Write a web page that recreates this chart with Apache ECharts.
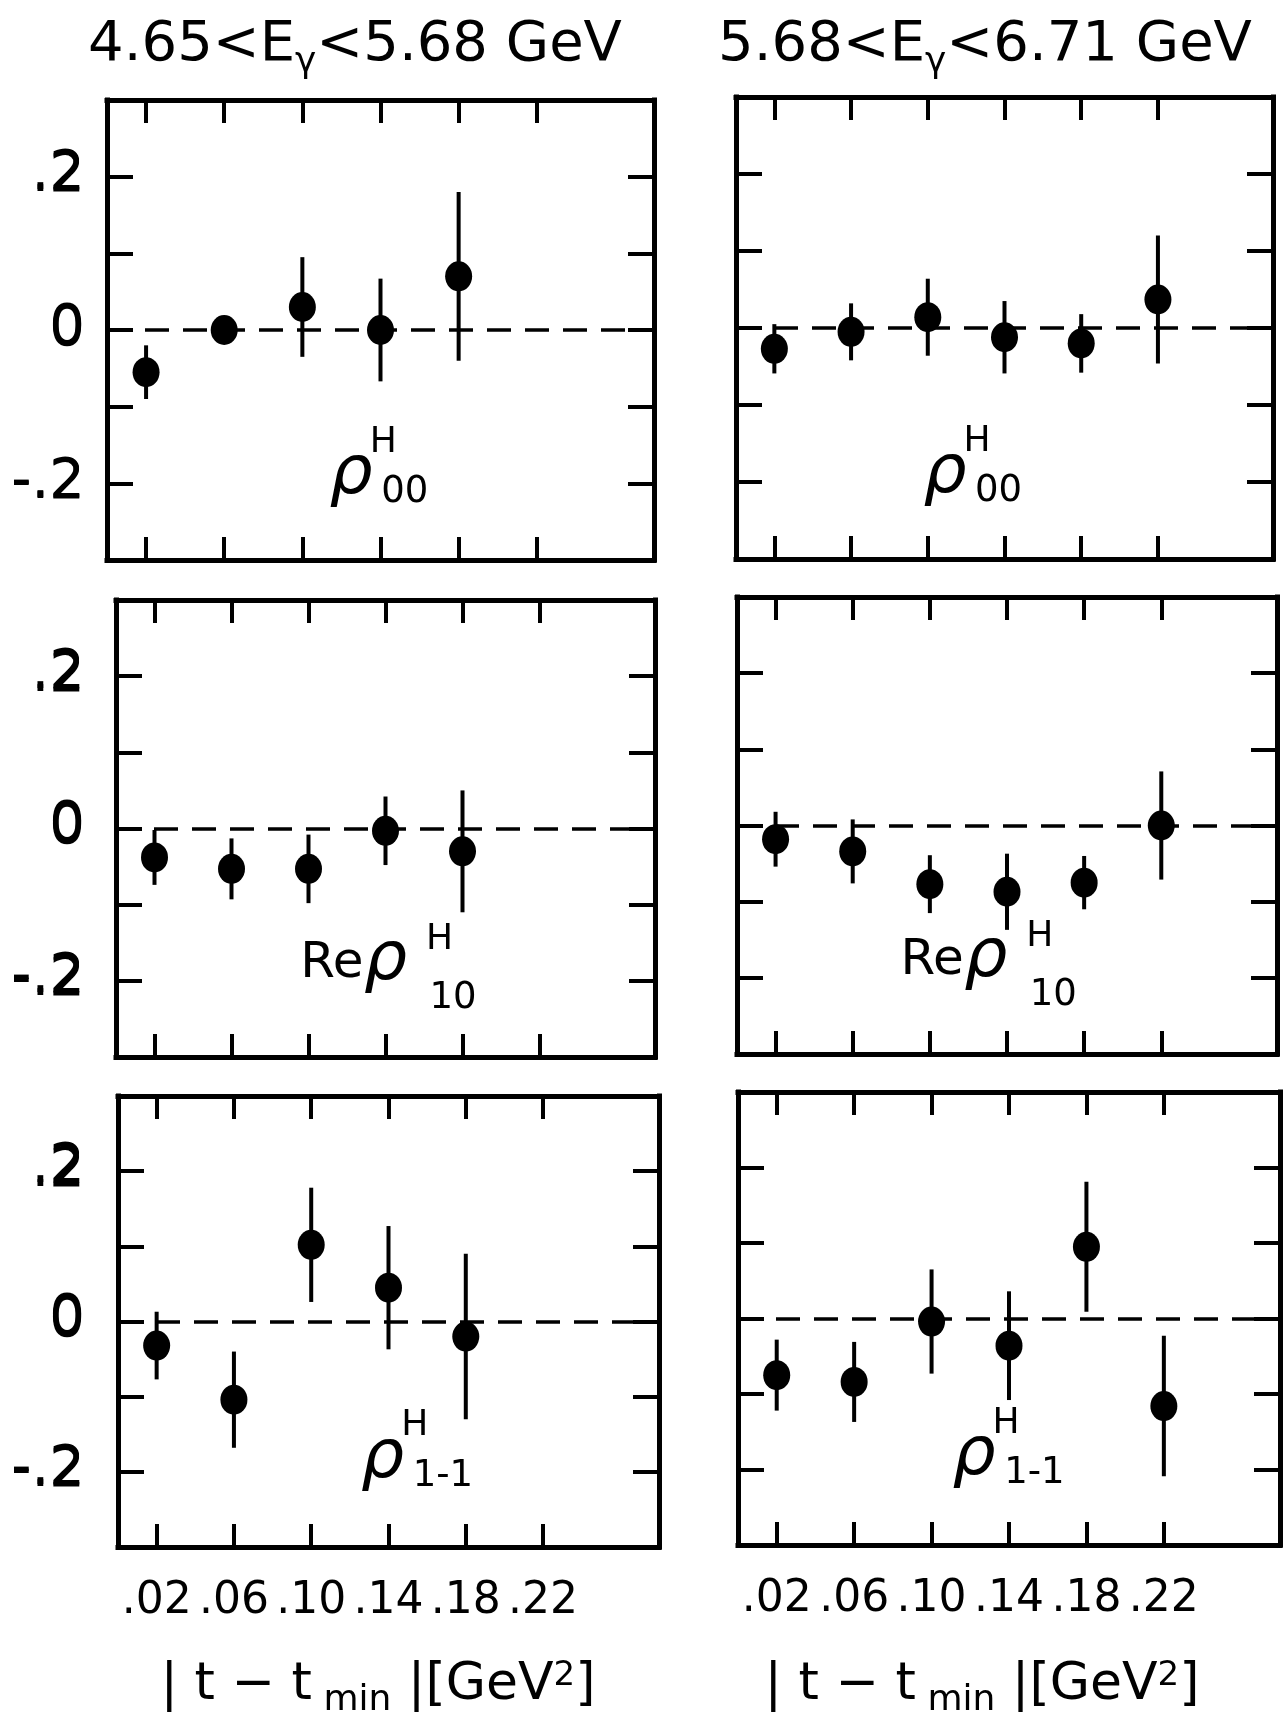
<!DOCTYPE html>
<html>
<head>
<meta charset="utf-8">
<script src="https://cdn.jsdelivr.net/npm/echarts@6/dist/echarts.min.js"></script>
<style>
html, body { margin: 0; padding: 0; background: #fff; }
#main { width: 1288px; height: 1716px; }
</style>
</head>
<body>
<div id="main"></div>
<script>
// |t - tmin| bins and axis ticks
const tValues = [0.02, 0.06, 0.10, 0.14, 0.18, 0.22];
const tTickLabels = ['.02', '.06', '.10', '.14', '.18', '.22'];
const yTicks = [-0.2, -0.1, 0, 0.1, 0.2];
const yLabelValues = [-0.2, 0, 0.2];
const yLabelTexts = ['-.2', '0', '.2'];

// 4.65 < E < 5.68 GeV
const rho00Low = [-0.055, 0.0, 0.03, 0.0, 0.07];
const rho00LowErr = [0.035, 0.012, 0.065, 0.067, 0.11];
const reRho10Low = [-0.038, -0.053, -0.053, -0.003, -0.03];
const reRho10LowErr = [0.036, 0.04, 0.045, 0.045, 0.08];
const rho1m1Low = [-0.032, -0.104, 0.102, 0.045, -0.02];
const rho1m1LowErr = [0.045, 0.064, 0.076, 0.082, 0.11];

// 5.68 < E < 6.71 GeV
const rho00High = [-0.027, -0.005, 0.014, -0.012, -0.02, 0.037];
const rho00HighErr = [0.032, 0.037, 0.05, 0.047, 0.038, 0.083];
const reRho10High = [-0.018, -0.034, -0.077, -0.087, -0.075, 0.0];
const reRho10HighErr = [0.036, 0.042, 0.038, 0.05, 0.035, 0.071];
const rho1m1High = [-0.075, -0.084, -0.004, -0.036, 0.095, -0.116];
const rho1m1HighErr = [0.047, 0.053, 0.069, 0.072, 0.086, 0.093];

const FONT = '"DejaVu Sans"';

// label offsets: [sup dx, sup dy, sub dx, sub dy]
const plainOff = [32, -33, 30, 17];
const reOff = [54, -22, 44, 37];

const panels = [
  { box: [107, 100, 547, 460], vals: rho00Low, errs: rho00LowErr, pre: '', sub: '00', at: [0.125, -0.19], off: plainOff, bottom: false },
  { box: [736, 97, 537, 462], vals: rho00High, errs: rho00HighErr, pre: '', sub: '00', at: [0.109, -0.19], off: plainOff, bottom: false },
  { box: [116, 600, 539, 457], vals: reRho10Low, errs: reRho10LowErr, pre: 'Re', sub: '10', at: [0.14, -0.175], off: reOff, bottom: false },
  { box: [737, 597, 540, 457], vals: reRho10High, errs: reRho10HighErr, pre: 'Re', sub: '10', at: [0.129, -0.175], off: reOff, bottom: false },
  { box: [118, 1096, 541, 451], vals: rho1m1Low, errs: rho1m1LowErr, pre: '', sub: '1-1', at: [0.137, -0.183], off: plainOff, bottom: true },
  { box: [738, 1092, 542, 453], vals: rho1m1High, errs: rho1m1HighErr, pre: '', sub: '1-1', at: [0.122, -0.183], off: plainOff, bottom: true },
];

const lineBlack = { color: '#000', width: 5, cap: 'square' };
const tickStyle = { color: '#000', width: 4 };

function pickLabel(values, texts) {
  return (v) => {
    const i = values.findIndex(t => Math.abs(t - v) < 1e-6);
    return i < 0 ? '' : texts[i];
  };
}

const grid = [];
const xAxis = [];
const yAxis = [];
const series = [];

panels.forEach((p, i) => {
  grid.push({ left: p.box[0], top: p.box[1], width: p.box[2], height: p.box[3] });

  ['bottom', 'top'].forEach((pos) => {
    xAxis.push({
      type: 'value', gridIndex: i, position: pos, min: 0, max: 0.28,
      axisLine: { show: true, onZero: false, lineStyle: lineBlack },
      axisTick: { show: true, inside: true, length: 23, customValues: tValues, lineStyle: tickStyle },
      axisLabel: {
        show: pos === 'bottom' && p.bottom, customValues: tValues, margin: 33,
        formatter: pickLabel(tValues, tTickLabels),
        color: '#000', fontSize: 44, fontFamily: FONT,
      },
      splitLine: { show: false },
    });
  });

  ['left', 'right'].forEach((pos) => {
    yAxis.push({
      type: 'value', gridIndex: i, position: pos, min: -0.3, max: 0.3, interval: 0.1,
      axisLine: { show: true, onZero: false, lineStyle: lineBlack },
      axisTick: { show: true, inside: true, length: 26, customValues: yTicks, lineStyle: tickStyle },
      axisLabel: {
        show: pos === 'left', customValues: yLabelValues, margin: p.box[0] - 85,
        formatter: pickLabel(yLabelValues, yLabelTexts),
        color: '#000', fontSize: 56, fontFamily: FONT,
      },
      splitLine: { show: false },
    });
  });

  const pts = p.vals.map((v, k) => [tValues[k], v, p.errs[k]]);

  series.push({
    type: 'custom',
    xAxisIndex: 2 * i,
    yAxisIndex: 2 * i,
    data: pts,
    encode: { x: 0, y: 1 },
    renderItem: (params, api) => {
      const x = api.value(0);
      const y = api.value(1);
      const e = api.value(2);
      const a = api.coord([x, y + e]);
      const b = api.coord([x, y - e]);
      return {
        type: 'line',
        shape: { x1: a[0], y1: a[1], x2: b[0], y2: b[1] },
        style: { stroke: '#000', lineWidth: 4 },
      };
    },
    silent: true,
    z: 3,
  });

  series.push({
    type: 'scatter',
    xAxisIndex: 2 * i,
    yAxisIndex: 2 * i,
    data: pts.map(d => [d[0], d[1]]),
    symbol: 'circle',
    symbolSize: [27, 30],
    itemStyle: { color: '#000', opacity: 1 },
    markLine: {
      silent: true,
      symbol: ['none', 'none'],
      label: { show: false },
      lineStyle: { color: '#000', width: 3.5, type: [24, 14], opacity: 1 },
      data: [{ yAxis: 0 }],
    },
    z: 4,
  });
});

const chart = echarts.init(document.getElementById('main'), null, { renderer: 'canvas' });
chart.setOption({
  backgroundColor: '#fff',
  animation: false,
  grid,
  xAxis,
  yAxis,
  series,
});

// panel labels, titles
const graphic = [];

function addText(x, y, text, font, align, valign, rich) {
  graphic.push({
    type: 'text', x, y, silent: true,
    style: { text, font, fill: '#000', textAlign: align, textVerticalAlign: valign, rich },
  });
}

panels.forEach((p, i) => {
  const c = chart.convertToPixel({ gridIndex: i }, p.at);
  addText(c[0], c[1], 'ρ', 'italic 68px ' + FONT, 'center', 'middle');
  addText(c[0] + p.off[0], c[1] + p.off[1], 'H', '36px ' + FONT, 'center', 'middle');
  addText(c[0] + p.off[2], c[1] + p.off[3], p.sub, '37px ' + FONT, 'left', 'middle');
  if (p.pre) {
    addText(c[0] - 22, c[1] + 2, p.pre, '50px ' + FONT, 'right', 'middle');
  }
});

const titleRich = {
  n: { fontSize: 56, fontFamily: FONT, color: '#000' },
  g: { fontSize: 36, fontFamily: FONT, color: '#000', verticalAlign: 'bottom', padding: [0, 0, -8, 0] },
};
addText(355, 45, '{n|4.65<E}{g|γ}{n|<5.68 GeV}', '56px ' + FONT, 'center', 'middle', titleRich);
addText(985, 45, '{n|5.68<E}{g|γ}{n|<6.71 GeV}', '56px ' + FONT, 'center', 'middle', titleRich);

const axisRich = {
  n: { fontSize: 52, fontFamily: FONT, color: '#000' },
  b: { fontSize: 36, fontFamily: FONT, color: '#000', verticalAlign: 'bottom', padding: [0, 0, -8, 0] },
  s: { fontSize: 34, fontFamily: FONT, color: '#000', verticalAlign: 'top' },
};
const axisTitle = '{n|| t − t}{b| min}{n| |[GeV}{s|2}{n|]}';
addText(378, 1685, axisTitle, '52px ' + FONT, 'center', 'middle', axisRich);
addText(982, 1685, axisTitle, '52px ' + FONT, 'center', 'middle', axisRich);

chart.setOption({ graphic });
</script>
</body>
</html>
